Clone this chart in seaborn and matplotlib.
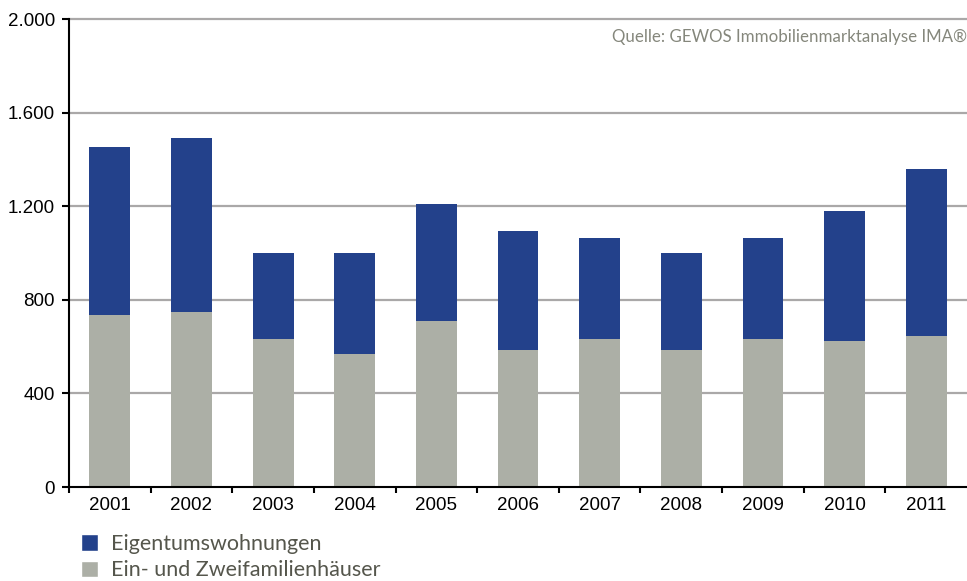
"""
Stacked bar chart: Ein- und Zweifamilienhäuser / Eigentumswohnungen 2001-2011
"""
import matplotlib.pyplot as plt
import seaborn as sns
import numpy as np
import pandas as pd
from matplotlib.patches import Patch
from matplotlib.ticker import FuncFormatter

years = ['2001', '2002', '2003', '2004', '2005', '2006',
         '2007', '2008', '2009', '2010', '2011']
ein_zwei = [735, 748, 633, 568, 710, 585, 633, 585, 633, 624, 645]
eigentum = [718, 744, 367, 432, 500, 509, 431, 415, 431, 556, 714]

BLUE = '#23418b'
GRAY = '#acafa6'

sns.set_theme(style='white')
plt.rcParams['font.family'] = ['Liberation Sans', 'DejaVu Sans']

df = pd.DataFrame({'year': years, 'ein_zwei': ein_zwei, 'eigentum': eigentum})
df['total'] = df['ein_zwei'] + df['eigentum']

fig = plt.figure(figsize=(9.67, 5.81), dpi=100)
ax = fig.add_axes([69 / 967, 1 - 487 / 581, 1 - 69 / 967, (487 - 19) / 581])

# stacked bars: draw total in blue, base part in gray on top
sns.barplot(data=df, x='year', y='total', color=BLUE, width=0.5,
            saturation=1, linewidth=0, ax=ax, zorder=3)
sns.barplot(data=df, x='year', y='ein_zwei', color=GRAY, width=0.5,
            saturation=1, linewidth=0, ax=ax, zorder=3)

ax.set_ylim(0, 2000)
ax.set_xlim(-0.5, len(years) - 0.5)
ax.set_yticks([0, 400, 800, 1200, 1600, 2000])
ax.yaxis.set_major_formatter(FuncFormatter(lambda v, p: f'{int(v):,}'.replace(',', '.')))
ax.set_xlabel('')
ax.set_ylabel('')

# gridlines
for v in [400, 800, 1200, 1600, 2000]:
    ax.axhline(v, color='#aaa8a8', lw=1.6, zorder=1, clip_on=False)

for side in ['top', 'right']:
    ax.spines[side].set_visible(False)
for side in ['left', 'bottom']:
    ax.spines[side].set_color('black')
    ax.spines[side].set_linewidth(1.5)
    ax.spines[side].set_zorder(4)

ax.tick_params(axis='y', which='major', left=True, length=5, width=1.5,
               color='black', labelsize=13.5, pad=5, labelcolor='black')
ax.tick_params(axis='x', which='major', bottom=False, labelsize=13.5, pad=1,
               labelcolor='black')
ax.set_xticks(np.arange(-0.5, len(years) - 0.5, 1), minor=True)
ax.tick_params(axis='x', which='minor', bottom=True, length=4, width=1.5,
               color='black')

# source note
ax.text(1.0, 0.962, 'Quelle: GEWOS Immobilienmarktanalyse IMA®',
        transform=ax.transAxes, ha='right', va='center',
        fontsize=12.2, color='#85877c', family=['Lato', 'DejaVu Sans'])

# legend
handles = [Patch(facecolor=BLUE, label='Eigentumswohnungen'),
           Patch(facecolor=GRAY, label='Ein- und Zweifamilienhäuser')]
leg = fig.legend(handles=handles, loc='upper left',
                 bbox_to_anchor=(81 / 967, 1 - 534 / 581), frameon=False,
                 borderpad=0, borderaxespad=0,
                 handlelength=0.8, handleheight=0.8, handletextpad=0.6,
                 labelspacing=0.3, prop={'family': 'Lato', 'size': 15.5})
for t in leg.get_texts():
    t.set_color('#55564c')

fig.savefig('out.png', dpi=100)
